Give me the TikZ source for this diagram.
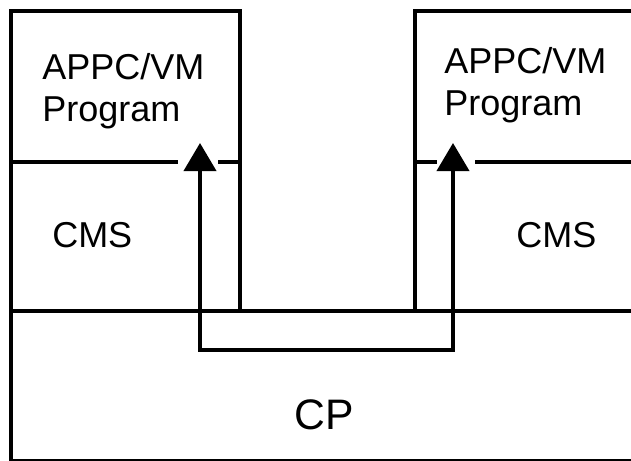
\documentclass[tikz,border=0pt]{standalone}
\usepackage{fontspec}
\setmainfont{Liberation Sans}
\usetikzlibrary{arrows.meta}

\begin{document}
\begin{tikzpicture}[x=0.75pt, y=-0.75pt,
    frame/.style={line width=3.6pt},
    link/.style={line width=3pt, {Triangle[width=24pt,length=21pt]}-{Triangle[width=24pt,length=21pt]}},
    label/.style={font=\fontsize{27}{31.5}\selectfont, align=left, inner sep=0pt, anchor=west}]
    \useasboundingbox (0,0) rectangle (631,460);
    \clip (0,0) rectangle (631,460);

    % Left virtual machine
    \draw[frame] (650,461) -- (11,461) -- (11,11) -- (240,11) -- (240,311);
    \draw[frame] (11,162) -- (178,162);
    \draw[frame] (218,162) -- (240,162);
    \node[label] (progL) at (42,91) {APPC/VM\\Program};
    \node[label] (cmsL) at (52,235) {CMS};

    % Right virtual machine
    \draw[frame] (415,311) -- (415,11) -- (650,11);
    \draw[frame] (415,162) -- (437,162);
    \draw[frame] (475,162) -- (650,162);
    \node[label] (progR) at (444,85) {APPC/VM\\Program};
    \node[label] (cmsR) at (516,235) {CMS};

    % CP
    \draw[frame] (11,311) -- (650,311);
    \node[font=\fontsize{32}{38}\selectfont, inner sep=0pt] (cp) at (324,415) {CP};

    % Path through CP
    \coordinate (tipL) at (200,143);
    \coordinate (tipR) at (453,143);
    \coordinate (loopL) at (200,350);
    \draw[link] (tipL) -- (loopL) -| (tipR);
\end{tikzpicture}
\end{document}
